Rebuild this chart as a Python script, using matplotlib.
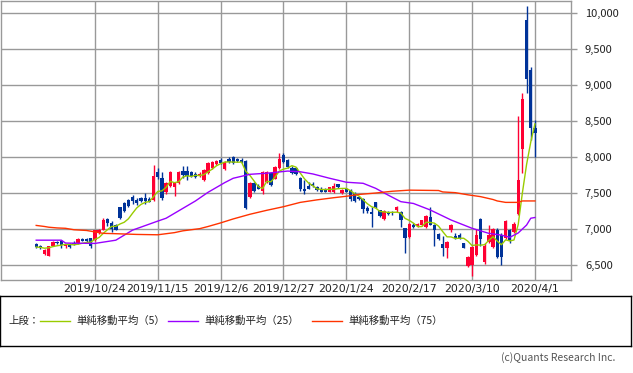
import numpy as np
import pandas as pd
import matplotlib
matplotlib.use('Agg')
import matplotlib.pyplot as plt

plt.rcParams['font.family'] = ['Noto Sans CJK JP', 'DejaVu Sans']

# daily candles, oldest first (open, high, low, close)
opens = [6790, 6760, 6650, 6630, 6770, 6820, 6830, 6760, 6790, 6810,
         6800, 6860, 6860, 6870, 6850, 6950, 6990, 7140, 7080, 7060,
         7300, 7360, 7400, 7440, 7410, 7430, 7430, 7420, 7400, 7790,
         7710, 7510, 7600, 7580, 7640, 7800, 7810, 7790, 7770, 7730,
         7680, 7780, 7850, 7900, 7960, 7830, 7970, 8000, 7970, 7960,
         7950, 7440, 7640, 7600, 7530, 7650, 7780, 7700, 7850, 8030,
         7960, 7850, 7850, 7710, 7560, 7600, 7630, 7580, 7560, 7560,
         7520, 7510, 7620, 7500, 7560, 7540, 7500, 7450, 7420, 7290,
         7240, 7370, 7260, 7140, 7230, 7230, 7270, 7240, 7010, 6890,
         7050, 7040, 7050, 7030, 7170, 7060, 6930, 6790, 6740, 6990,
         6910, 6920, 6800, 6490, 6500, 6640, 7140, 6540, 6820, 6750,
         6990, 6920, 6870, 6990, 6960, 7210, 8110, 9910, 9210, 8400]
highs = [6800, 6780, 6720, 6770, 6830, 6840, 6850, 6790, 6800, 6830,
         6870, 6880, 6870, 6880, 6990, 7000, 7150, 7160, 7110, 7070,
         7310, 7380, 7420, 7470, 7430, 7450, 7500, 7440, 7890, 7850,
         7790, 7660, 7810, 7660, 7800, 7870, 7870, 7810, 7790, 7790,
         7830, 7930, 7950, 7960, 7990, 7940, 8000, 8020, 7990, 7980,
         7960, 7650, 7660, 7620, 7800, 7800, 7790, 7870, 8050, 8050,
         7970, 7870, 7860, 7720, 7680, 7650, 7650, 7600, 7580, 7570,
         7590, 7640, 7630, 7560, 7570, 7550, 7510, 7460, 7430, 7320,
         7310, 7380, 7270, 7260, 7250, 7250, 7320, 7250, 7020, 7080,
         7080, 7080, 7130, 7200, 7300, 7070, 6940, 6900, 6830, 7070,
         6940, 6950, 6810, 6620, 6760, 7000, 7150, 6800, 7050, 7010,
         7010, 6940, 7120, 7000, 7100, 8570, 8890, 10100, 9250, 8510]
lows = [6740, 6720, 6640, 6620, 6760, 6790, 6740, 6740, 6740, 6780,
        6790, 6830, 6820, 6740, 6840, 6930, 6980, 7040, 6960, 6980,
        7140, 7240, 7300, 7350, 7340, 7380, 7350, 7370, 7390, 7700,
        7410, 7490, 7580, 7460, 7620, 7710, 7680, 7720, 7710, 7720,
        7670, 7770, 7840, 7890, 7910, 7820, 7920, 7910, 7930, 7920,
        7280, 7430, 7520, 7550, 7480, 7640, 7600, 7690, 7840, 7920,
        7850, 7770, 7750, 7530, 7480, 7550, 7590, 7530, 7510, 7510,
        7510, 7500, 7570, 7490, 7510, 7390, 7380, 7410, 7220, 7220,
        7030, 7290, 7170, 7130, 7200, 7200, 7240, 7030, 6670, 6880,
        7020, 7030, 7040, 7020, 7050, 6760, 6850, 6630, 6600, 6960,
        6860, 6860, 6730, 6470, 6350, 6630, 6760, 6520, 6810, 6740,
        6600, 6500, 6860, 6800, 6950, 7190, 7780, 8890, 8240, 8000]
closes = [6750, 6740, 6710, 6760, 6820, 6810, 6780, 6770, 6750, 6790,
          6860, 6840, 6830, 6770, 6980, 6990, 7130, 7080, 7000, 6990,
          7150, 7250, 7320, 7390, 7360, 7390, 7390, 7380, 7730, 7720,
          7430, 7640, 7790, 7640, 7790, 7750, 7730, 7740, 7720, 7770,
          7820, 7920, 7930, 7950, 7920, 7930, 7930, 7920, 7940, 7930,
          7290, 7640, 7530, 7560, 7790, 7790, 7610, 7860, 7970, 7930,
          7860, 7780, 7760, 7560, 7530, 7560, 7600, 7540, 7520, 7520,
          7580, 7600, 7580, 7540, 7520, 7420, 7390, 7420, 7280, 7250,
          7210, 7300, 7180, 7250, 7210, 7220, 7310, 7120, 6880, 7070,
          7030, 7070, 7120, 7180, 7060, 6980, 6860, 6740, 6820, 7050,
          6870, 6880, 6740, 6610, 6750, 6920, 6860, 6770, 6920, 7000,
          6610, 6610, 7110, 6840, 7070, 7680, 8810, 9080, 8400, 8330]

# moving averages (day index, value)
ma25_idx = [0, 6, 7, 14, 19, 23, 29, 31, 38, 41, 45, 47, 51, 55, 60, 63, 66,
            70, 74, 78, 81, 84, 87, 90, 94, 99, 104, 108, 111, 113, 115, 117,
            118, 119]
ma25_val = [6845, 6845, 6805, 6800, 6845, 6985, 7110, 7150, 7390, 7510, 7645,
            7705, 7760, 7775, 7805, 7795, 7765, 7705, 7650, 7635, 7565, 7470,
            7380, 7355, 7265, 7125, 7010, 6940, 6915, 6885, 6945, 7055, 7150,
            7160]
ma75_idx = [0, 2, 3, 5, 7, 9, 12, 14, 16, 19, 24, 29, 33, 35, 39, 41, 44, 47,
            51, 55, 59, 63, 67, 71, 74, 77, 81, 85, 89, 96, 97, 100, 103, 106,
            109, 110, 112, 115, 116, 119]
ma75_val = [7050, 7035, 7025, 7015, 7010, 6990, 6980, 6960, 6940, 6935, 6925,
            6920, 6950, 6975, 7005, 7035, 7085, 7140, 7205, 7260, 7310, 7370,
            7405, 7435, 7455, 7480, 7500, 7525, 7540, 7535, 7515, 7505, 7475,
            7450, 7410, 7390, 7370, 7370, 7390, 7390]

tick_pos = [14, 29, 44, 59, 74, 89, 104, 119]
tick_labels = ['2019/10/24', '2019/11/15', '2019/12/6', '2019/12/27',
               '2020/1/24', '2020/2/17', '2020/3/10', '2020/4/1']
y_ticks = [6500, 7000, 7500, 8000, 8500, 9000, 9500, 10000]

UP = '#ff0033'
DOWN = '#003399'
GRID = '#999999'

df = pd.DataFrame({'o': opens, 'h': highs, 'l': lows, 'c': closes})
x = np.arange(len(df))
ma5 = df['c'].rolling(5, min_periods=1).mean()

fig = plt.figure(figsize=(6.33, 3.73), dpi=100)
ax = fig.add_axes([1 / 633, 1 - 280 / 373, 570 / 633, 279 / 373])

ax.grid(True, color=GRID, lw=1)
ax.set_axisbelow(True)

up = df['c'] >= df['o']
col = np.where(up, UP, DOWN)
ax.vlines(x, df['l'], df['h'], colors=col, lw=1, zorder=2)
body = (df['c'] - df['o']).abs().clip(lower=12)
ax.bar(x, body, bottom=df[['o', 'c']].min(axis=1), width=0.8,
       color=col, lw=0, zorder=3)

ax.plot(x, ma5, color='#99cc00', lw=1, zorder=4)
ax.plot(ma25_idx, ma25_val, color='#9900ff', lw=1, zorder=4)
ax.plot(ma75_idx, ma75_val, color='#ff3300', lw=1, zorder=4)

ax.set_xlim(-8.4, 127.6)
ax.set_ylim(6292, 10167)
ax.set_xticks(tick_pos)
ax.set_xticklabels(tick_labels, family='DejaVu Sans')
ax.set_yticks(y_ticks)
ax.set_yticklabels([f'{v:,}' for v in y_ticks])
ax.yaxis.tick_right()
ax.tick_params(axis='x', length=0, pad=3, labelsize=7.8, colors='#222222')
ax.tick_params(axis='y', direction='out', length=4, width=1, color=GRID,
               pad=6, labelsize=8, labelcolor='#222222')
for s in ax.spines.values():
    s.set_color(GRID)
    s.set_linewidth(1)

# legend box
lg = fig.add_axes([0, 1 - 346 / 373, 631 / 633, 50 / 373])
lg.set_xlim(0, 631)
lg.set_ylim(0, 50)
lg.set_xticks([])
lg.set_yticks([])
for s in lg.spines.values():
    s.set_color('black')
    s.set_linewidth(1)
ty = 25
lg.text(8, ty, '上段：', fontsize=7.5, va='center', ha='left', color='#222222')
entries = [(40, '#99cc00', '単純移動平均（5）'),
           (168, '#9900ff', '単純移動平均（25）'),
           (312, '#ff3300', '単純移動平均（75）')]
for x0, c, t in entries:
    lg.plot([x0, x0 + 30], [ty, ty], color=c, lw=1)
    lg.text(x0 + 36, ty, t, fontsize=7.5, va='center', ha='left', color='#222222')

fig.text(615 / 633, 1 - 358 / 373, '(c)Quants Research Inc.', fontsize=7.5,
         ha='right', va='center', color='#555555')

fig.savefig('out.png', dpi=100)
